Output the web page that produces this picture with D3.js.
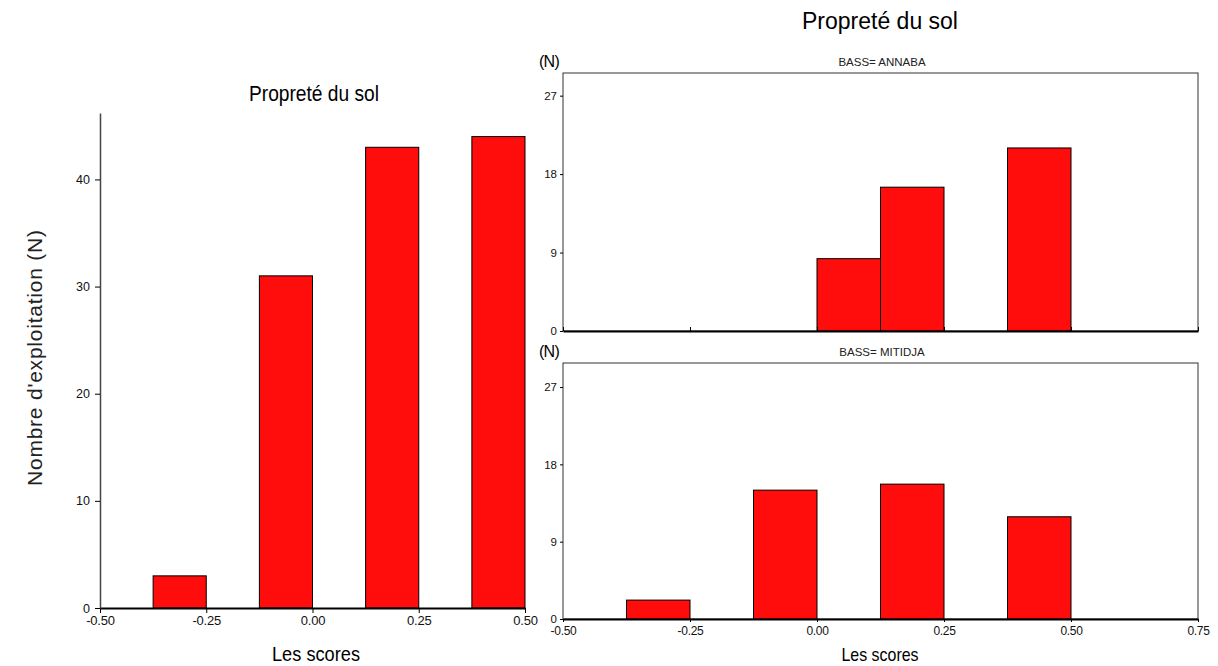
<!DOCTYPE html>
<html><head><meta charset="utf-8">
<script src="https://cdn.jsdelivr.net/npm/d3@7"></script>
<style>
body{margin:0;background:#fff;}
svg{display:block;font-family:"Liberation Sans",Arial,sans-serif;}
</style></head>
<body><svg id="c" width="1218" height="666"></svg>
<script>
// ---- data ----
const binWidth = 0.125;
const allBinStarts = [-0.375, -0.125, 0.125, 0.375];
const allCounts = [3, 31, 43, 44];
const annabaBinStarts = [0, 0.125, 0.375];
const annabaCounts = [8.3, 16.5, 21];
const mitidjaBinStarts = [-0.375, -0.125, 0.125, 0.375];
const mitidjaCounts = [2.2, 15, 15.7, 11.9];
const leftXTicks = [-0.5, -0.25, 0, 0.25, 0.5];
const leftYTicks = [0, 10, 20, 30, 40];
const rightXTicks = [-0.5, -0.25, 0, 0.25, 0.5, 0.75];
const rightYTicks = [0, 9, 18, 27];
const mainTitle = "Propreté du sol";
const xTitle = "Les scores";
const yTitle = "Nombre d'exploitation (N)";
const panelTitles = ["BASS= ANNABA", "BASS= MITIDJA"];

const RED = "#ff0c0c";
const svg = d3.select("#c");
const fmt = d3.formatLocale({decimal: ".", thousands: ",", grouping: [3], currency: ["", ""], minus: "-"}).format(".2f");

// ---- left chart ----
const xL = d3.scaleLinear().domain([-0.5, 0.5]).range([100, 525]);
const yL = d3.scaleLinear().domain([0, 46.2]).range([608, 113]);
const gL = svg.append("g");
gL.selectAll("rect").data(allBinStarts).join("rect")
  .attr("x", d => xL(d)).attr("width", d => xL(d + binWidth) - xL(d))
  .attr("y", (d,i) => yL(allCounts[i])).attr("height", (d,i) => yL(0) - yL(allCounts[i]))
  .attr("fill", RED).attr("stroke", "#000").attr("stroke-width", 1);
const axLX = gL.append("g").attr("transform", `translate(0,${yL(0)})`)
  .call(d3.axisBottom(xL).tickValues(leftXTicks).tickFormat(fmt).tickSize(5).tickSizeOuter(0));
const axLY = gL.append("g").attr("transform", `translate(${xL(-0.5)},0)`)
  .call(d3.axisLeft(yL).tickValues(leftYTicks).tickSize(5).tickSizeOuter(0));
axLX.selectAll("text").attr("font-size", 13).attr("fill", "#111").attr("letter-spacing", "-0.2");
axLY.selectAll("text").attr("font-size", 12.5).attr("fill", "#111").attr("dx", "-2");
axLX.select(".domain").attr("stroke", "#000").attr("stroke-width", 2);
axLY.select(".domain").attr("stroke", "#444").attr("stroke-width", 1.5);
gL.append("text").attr("x", 314).attr("y", 101).attr("text-anchor", "middle")
  .attr("font-size", 22).attr("textLength", 130).attr("lengthAdjust", "spacingAndGlyphs").text(mainTitle);
gL.append("text").attr("transform", "translate(42,358) rotate(-90)").attr("text-anchor", "middle")
  .attr("font-size", 21).attr("fill", "#222").attr("textLength", 256).attr("lengthAdjust", "spacing").text(yTitle);
gL.append("text").attr("x", 316).attr("y", 661).attr("text-anchor", "middle")
  .attr("font-size", 21).attr("textLength", 88).attr("lengthAdjust", "spacingAndGlyphs").text(xTitle);

// ---- right panels ----
const xR = d3.scaleLinear().domain([-0.5, 0.75]).range([563, 1198]);
svg.append("text").attr("x", 880).attr("y", 29).attr("text-anchor", "middle")
  .attr("font-size", 23).text(mainTitle);
svg.append("text").attr("x", 880).attr("y", 661).attr("text-anchor", "middle")
  .attr("font-size", 19).attr("textLength", 77).attr("lengthAdjust", "spacingAndGlyphs").text(xTitle);

const panels = [
  {top: 73, bottom: 331, dom: 29.6, starts: annabaBinStarts, counts: annabaCounts, title: panelTitles[0], labels: false},
  {top: 363, bottom: 619, dom: 29.8, starts: mitidjaBinStarts, counts: mitidjaCounts, title: panelTitles[1], labels: true}
];
panels.forEach(p => {
  const y = d3.scaleLinear().domain([0, p.dom]).range([p.bottom, p.top]);
  const g = svg.append("g");
  g.append("rect").attr("x", xR(-0.5)).attr("y", p.top).attr("width", xR(0.75) - xR(-0.5)).attr("height", p.bottom - p.top)
    .attr("fill", "none").attr("stroke", "#333").attr("stroke-width", 1);
  g.selectAll("rect.bar").data(p.starts).join("rect").attr("class", "bar")
    .attr("x", d => xR(d)).attr("width", d => xR(d + binWidth) - xR(d))
    .attr("y", (d,i) => y(p.counts[i])).attr("height", (d,i) => y(0) - y(p.counts[i]))
    .attr("fill", RED).attr("stroke", "#000").attr("stroke-width", 1);
  const ax = g.append("g").attr("transform", `translate(0,${p.bottom})`)
    .call(d3.axisBottom(xR).tickValues(rightXTicks).tickFormat(p.labels ? fmt : () => "")
      .tickSize(p.labels ? 3 : -4).tickSizeOuter(0));
  ax.select(".domain").attr("stroke", "#000").attr("stroke-width", 2);
  ax.selectAll("text").attr("font-size", 12).attr("fill", "#111").attr("letter-spacing", "-0.3").attr("dy", "0.8em");
  const ay = g.append("g").attr("transform", `translate(${xR(-0.5)},0)`)
    .call(d3.axisLeft(y).tickValues(rightYTicks).tickSize(3).tickSizeOuter(0));
  ay.select(".domain").remove();
  ay.selectAll("text").attr("font-size", 11.5).attr("fill", "#111");
  g.append("text").attr("x", 549).attr("y", p.top - 6).attr("text-anchor", "middle")
    .attr("font-size", 16).attr("letter-spacing", "-0.8").text("(N)");
  g.append("text").attr("x", 882).attr("y", p.top - 7).attr("text-anchor", "middle")
    .attr("font-size", 11.5).attr("fill", "#222").text(p.title);
});
</script></body></html>
